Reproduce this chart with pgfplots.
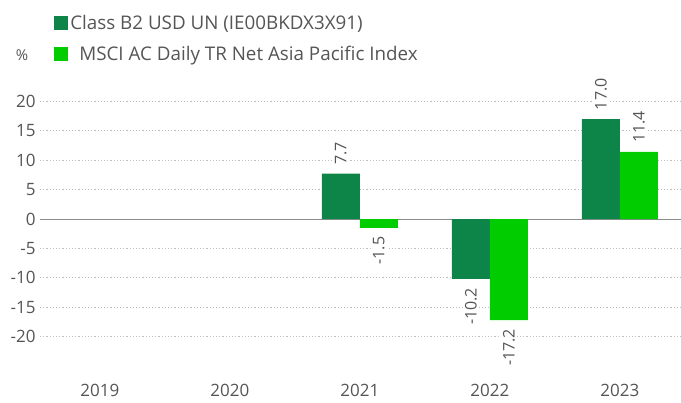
\documentclass[border=0pt]{standalone}
\usepackage{pgfplots}
\pgfplotsset{compat=1.18}
\usepackage{fontspec}
\setmainfont{Open Sans}
\definecolor{darkg}{HTML}{0E8548}
\definecolor{lightg}{HTML}{00CC00}
\definecolor{txt}{HTML}{555555}
\begin{document}
\begin{tikzpicture}
\useasboundingbox (0,0) rectangle (681bp,403bp);
\begin{axis}[
  at={(40bp,37bp)}, anchor=south west,
  scale only axis, width=641bp, height=294bp,
  ymin=-25, ymax=25,
  xmin=-0.46, xmax=4.47,
  ybar=0pt, bar width=38bp,
  axis line style={draw=none},
  xtick={0,1,2,3,4},
  xticklabels={2019,2020,2021,2022,2023},
  ytick={-20,-15,-10,-5,5,10,15,20},
  extra y ticks={0},
  extra y tick style={grid=major, major grid style={solid, draw=gray!90, line width=0.8bp}},
  ymajorgrids,
  major grid style={dash pattern=on 1.2bp off 2bp, draw=black!25, line width=0.7bp},
  major tick length=0pt,
  tick label style={font=\fontsize{17bp}{20bp}\selectfont, text=txt},
  /pgf/number format/assume math mode=true,
  xticklabel style={anchor=north, inner ysep=0.5bp, yshift=-17bp},
  yticklabel style={xshift=-1bp},
  ylabel={\%},
  ylabel style={rotate=-90, at={(axis description cs:-0.028,1.058)}, anchor=center, font=\fontsize{15bp}{18bp}\selectfont, text=txt},
  nodes near coords,
  point meta=explicit,
  nodes near coords={\pgfmathprintnumber[fixed,fixed zerofill,precision=1]{\pgfplotspointmeta}},
  visualization depends on={y \as \rawy},
  every node near coord/.append style={font=\fontsize{16bp}{18bp}\selectfont, text=txt, rotate=90,
     anchor={\ifdim\rawy pt<0pt east\else west\fi}, inner sep=2bp, outer sep=7bp, fill=white},
  legend style={at={(axis description cs:0.022,1.195)}, anchor=north west, draw=none, fill=none,
     inner sep=0pt, row sep=15bp, font=\fontsize{18.8bp}{21bp}\selectfont, text=txt,
     nodes={inner xsep=2bp, inner ysep=0pt}},
  legend cell align=left,
  legend image code/.code={\fill[#1,draw=none] (0bp,-7bp) rectangle (14bp,7bp);},
]
\addplot[fill=darkg, draw=none] table[x=x, y=y, meta=y] {
x y
2 7.7
3 -10.2
4 17.0
};
\addlegendentry{Class B2 USD UN (IE00BKDX3X91)}
\addplot[fill=lightg, draw=none] table[x=x, y=y, meta=y] {
x y
2 -1.5
3 -17.2
4 11.4
};
\addlegendentry{\hspace*{9bp}MSCI AC Daily TR Net Asia Pacific Index}
\end{axis}
\end{tikzpicture}
\end{document}
